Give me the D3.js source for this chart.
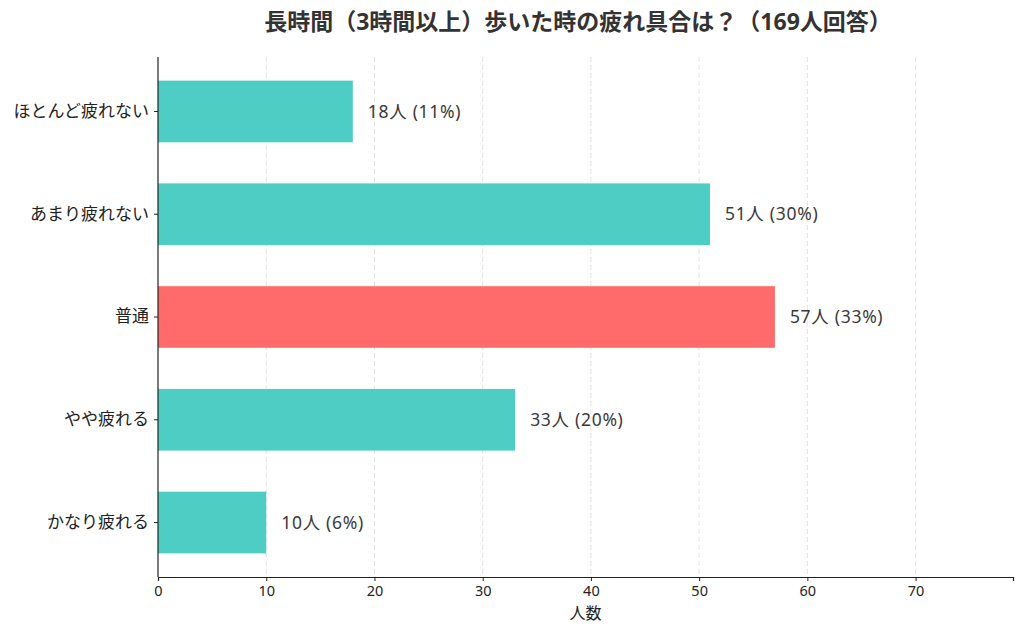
<!DOCTYPE html>
<html>
<head>
<meta charset="utf-8">
<script src="https://cdn.jsdelivr.net/npm/d3@7"></script>
<style>
  body { margin: 0; background: #fff; }
  text { font-family: "Noto Sans", "Noto Sans CJK JP", sans-serif; }
</style>
</head>
<body>
<div id="chart"></div>
<script>
const categories = ['ほとんど疲れない', 'あまり疲れない', '普通', 'やや疲れる', 'かなり疲れる'];
const counts = [18, 51, 57, 33, 10];
const percents = [11, 30, 33, 20, 6];
const highlight = '普通';
const xTicks = [0, 10, 20, 30, 40, 50, 60, 70];
const title = '長時間（3時間以上）歩いた時の疲れ具合は？（169人回答）';
const xLabel = '人数';

const width = 1024, height = 634;
const margin = { top: 57, right: 11, bottom: 57, left: 158 };
const fontMix = '"Noto Sans", "Noto Sans CJK JP", sans-serif';

const svg = d3.select('#chart').append('svg')
  .attr('width', width)
  .attr('height', height);

const x = d3.scaleLinear()
  .domain([0, 79])
  .range([margin.left, width - margin.right]);

const y = d3.scaleBand()
  .domain(categories)
  .range([margin.top, height - margin.bottom])
  .paddingInner(0.4)
  .paddingOuter(0.23);

// grid
svg.append('g')
  .selectAll('line')
  .data(xTicks.slice(1))
  .join('line')
  .attr('x1', d => x(d)).attr('x2', d => x(d))
  .attr('y1', margin.top).attr('y2', height - margin.bottom)
  .attr('stroke', '#e3e3e3')
  .attr('stroke-dasharray', '5,3')
  .attr('stroke-width', 1);

// bars
svg.append('g')
  .selectAll('rect')
  .data(categories)
  .join('rect')
  .attr('x', x(0))
  .attr('y', d => y(d))
  .attr('width', (d, i) => x(counts[i]) - x(0))
  .attr('height', y.bandwidth())
  .attr('fill', d => d === highlight ? '#FF6B6B' : '#4ECDC4');

// value labels
svg.append('g')
  .selectAll('text')
  .data(categories)
  .join('text')
  .attr('x', (d, i) => x(counts[i]) + 15)
  .attr('y', d => y(d) + y.bandwidth() / 2)
  .attr('dy', '0.35em')
  .attr('font-size', 17.5)
  .attr('letter-spacing', 0.7)
  .attr('fill', '#3a3a3a')
  .text((d, i) => `${counts[i]}人 (${percents[i]}%)`);

// axes
const xAxis = svg.append('g')
  .attr('transform', `translate(0,${height - margin.bottom})`)
  .call(d3.axisBottom(x).tickValues(xTicks).tickSize(4).tickPadding(5));
xAxis.select('.domain').attr('stroke', '#222').attr('stroke-width', 1.2);
xAxis.selectAll('.tick line').attr('stroke', '#222');
xAxis.selectAll('.tick text').attr('font-size', 14.5).attr('fill', '#222')
  .attr('font-family', fontMix);

const yAxis = svg.append('g')
  .attr('transform', `translate(${margin.left},0)`)
  .call(d3.axisLeft(y).tickSize(4).tickPadding(5));
yAxis.select('.domain').attr('stroke', '#222').attr('stroke-width', 1.2)
  .attr('d', `M0,${margin.top}V${height - margin.bottom}`);
yAxis.selectAll('.tick line').attr('stroke', '#222');
yAxis.selectAll('.tick text').attr('font-size', 17).attr('fill', '#222')
  .attr('font-family', '"Noto Sans CJK JP", sans-serif');

// labels
svg.append('text')
  .attr('x', (margin.left + width - margin.right) / 2)
  .attr('y', 619)
  .attr('text-anchor', 'middle')
  .attr('font-size', 16)
  .attr('fill', '#222')
  .attr('font-family', '"Noto Sans CJK JP", sans-serif')
  .text(xLabel);

svg.append('text')
  .attr('x', 578)
  .attr('y', 30)
  .attr('text-anchor', 'middle')
  .attr('font-size', 23)
  .attr('font-weight', 'bold')
  .attr('fill', '#333')
  .attr('font-family', '"Noto Sans CJK JP", sans-serif')
  .text(title);
</script>
</body>
</html>
